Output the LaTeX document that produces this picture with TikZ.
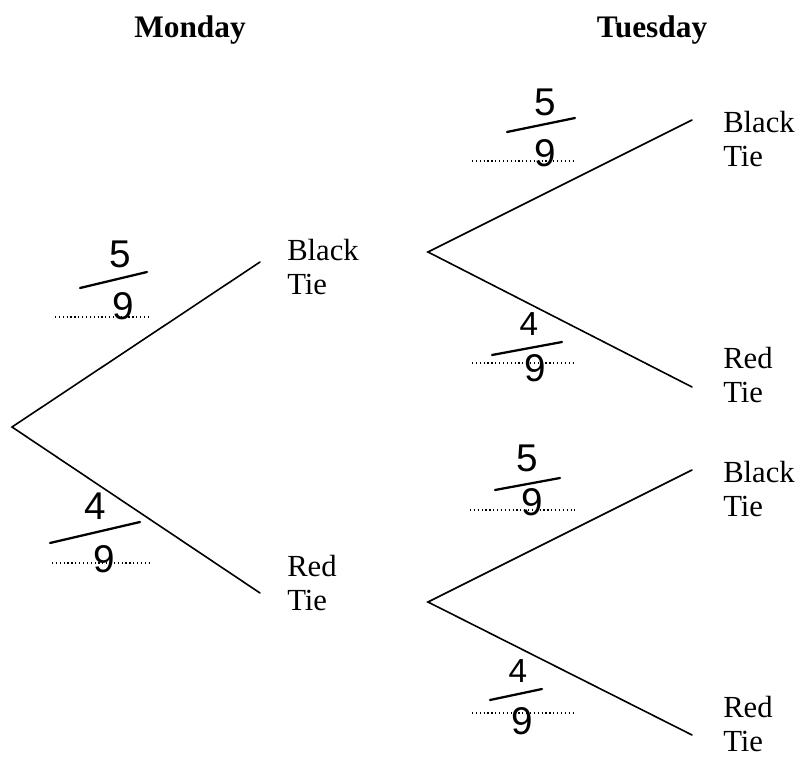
\documentclass[tikz,border=0pt]{standalone}
\usepackage{fontspec}
\setmainfont{Liberation Serif}
\newfontfamily\handfont{Liberation Sans}
\begin{document}
\begin{tikzpicture}[x=0.75pt,y=-0.75pt,
  branch/.style={line width=1.2pt, line cap=round},
  lbl/.style={anchor=west, align=left, font=\fontsize{23}{26}\selectfont, inner sep=0pt},
  head/.style={font=\bfseries\fontsize{23.5}{26}\selectfont},
  num/.style={font=\handfont\fontsize{29}{30}\selectfont, inner sep=0pt},
  smallnum/.style={font=\handfont\fontsize{25}{26}\selectfont, inner sep=0pt},
  fbar/.style={line width=1.7pt, line cap=round},
  dotline/.style={line width=0.9pt, dotted}]
\useasboundingbox (0,0) rectangle (801,757);
% headings
\node[head] (mon) at (190,30) {Monday};
\node[head] (tue) at (652,30) {Tuesday};
% tree points
\coordinate (root) at (12,427);
\coordinate (mB) at (260,262);
\coordinate (mR) at (260,593);
\coordinate (sB) at (428,252);
\coordinate (sR) at (428,602);
\coordinate (tBB) at (692,120);
\coordinate (tBR) at (692,387);
\coordinate (tRB) at (692,470);
\coordinate (tRR) at (692,735);
\draw[branch] (mB) -- (root) -- (mR);
\draw[branch] (tBB) -- (sB) -- (tBR);
\draw[branch] (tRB) -- (sR) -- (tRR);
% outcome labels
\node[lbl] (lmB) at (287,267) {Black\\Tie};
\node[lbl] (lmR) at (287,583) {Red\\Tie};
\node[lbl] (ltBB) at (723,139) {Black\\Tie};
\node[lbl] (ltBR) at (723,375) {Red\\Tie};
\node[lbl] (ltRB) at (723,489) {Black\\Tie};
\node[lbl] (ltRR) at (723,724) {Red\\Tie};
% fraction 1 (Monday black)
\draw[dotline] (55,317) -- (150,317);
\node[num] (n1) at (120,254) {5};
\draw[fbar] (80,288) -- (147,272);
\node[num] (d1) at (123,306) {9};
% fraction 2 (Monday red)
\draw[dotline] (52,563) -- (150,563);
\node[num] (n2) at (95,506) {4};
\draw[fbar] (50,543) -- (140,522);
\node[num] (d2) at (104,559) {9};
% fraction 3
\draw[dotline] (472,161) -- (575,161);
\node[num] (n3) at (545,102) {5};
\draw[fbar] (507,132) -- (575,118);
\node[num] (d3) at (545,153) {9};
% fraction 4
\draw[dotline] (472,363) -- (573,363);
\node[smallnum] (n4) at (529,324) {4};
\draw[fbar] (492,355) -- (562,342);
\node[num] (d4) at (535,368) {9};
% fraction 5
\draw[dotline] (470,510) -- (575,510);
\node[num] (n5) at (527,458) {5};
\draw[fbar] (495,490) -- (560,478);
\node[num] (d5) at (532,502) {9};
% fraction 6
\draw[dotline] (472,713) -- (575,713);
\node[smallnum] (n6) at (518,671) {4};
\draw[fbar] (490,700) -- (542,689);
\node[num] (d6) at (522,721) {9};
\end{tikzpicture}
\end{document}
